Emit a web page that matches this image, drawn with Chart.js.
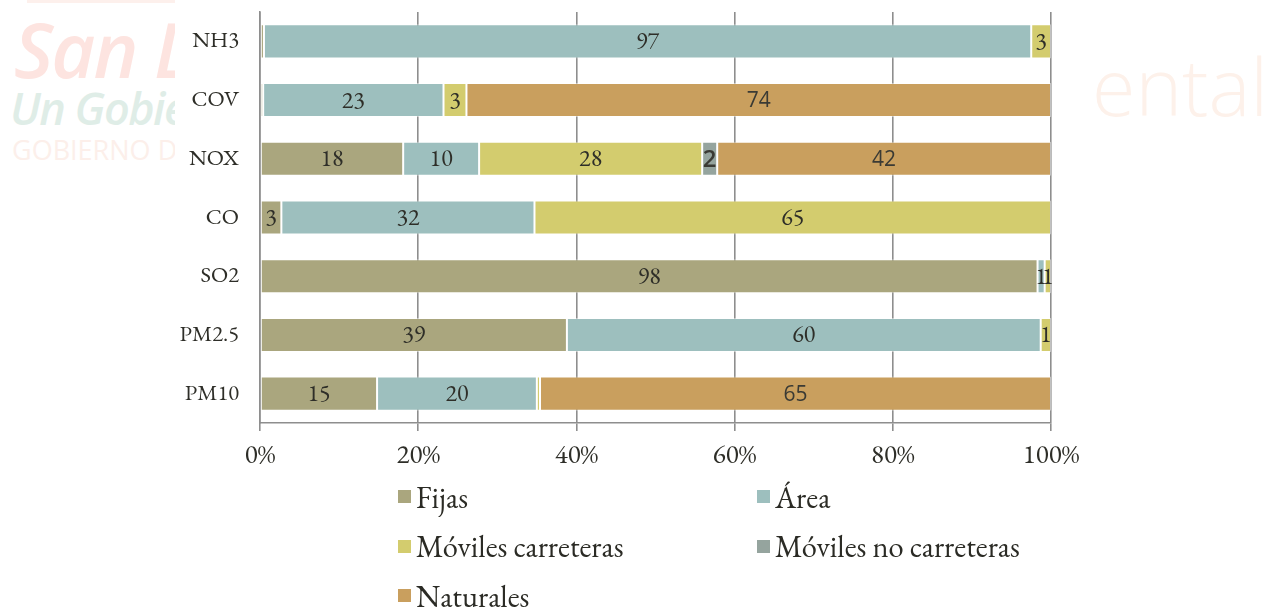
<!DOCTYPE html>
<html>
<head>
<meta charset="utf-8">
<script src="https://cdn.jsdelivr.net/npm/chart.js@4/dist/chart.umd.min.js"></script>
<style>
  html, body { margin: 0; padding: 0; background: #fff; }
  body { width: 1264px; height: 607px; position: relative; overflow: hidden; }
  .marca { position: absolute; overflow: hidden; white-space: nowrap; font-family: "Open Sans", "DejaVu Sans", sans-serif; }
  #chartBox { position: absolute; left: 0; top: 0; width: 1264px; height: 475px; }
  #legenda { position: absolute; left: 398px; top: 472px; display: grid; grid-template-columns: 359px 330px; grid-auto-rows: 49.5px; font-family: "EB Garamond", Garamond, "Liberation Serif", serif; font-size: 30.5px; color: #2b2b25; }
  #legenda div { display: flex; align-items: center; }
  #legenda span.box { display: inline-block; width: 13px; height: 13px; margin-right: 5px; }
</style>
</head>
<body>
<div class="marca" style="left:27px;top:0;width:148px;height:3px;background:#fdf0ec"></div>
<div class="marca" style="left:14px;top:8px;width:161px;height:82px;font-size:76px;font-weight:600;font-style:italic;color:#fde4e0;line-height:82px;letter-spacing:-2px">San Luis</div>
<div class="marca" style="left:10px;top:84px;width:165px;height:48px;font-size:45px;font-weight:600;font-style:italic;color:#dfede7;line-height:48px;letter-spacing:-1.5px">Un Gobierno</div>
<div class="marca" style="left:12px;top:134px;width:163px;height:32px;font-size:27px;color:#fcefea;line-height:32px">GOBIERNO DEL</div>
<div class="marca" style="left:1092px;top:44px;width:172px;height:84px;font-size:79px;font-weight:300;color:#fdf1ea;line-height:84px">ental</div>

<div id="chartBox"><canvas id="graficoFuentes"></canvas></div>
<div id="legenda"></div>

<script>
const contaminantes = ["NH3", "COV", "NOX", "CO", "SO2", "PM2.5", "PM10"];
const fijas = [0.5, 0.4, 18.1, 2.7, 98.3, 38.8, 14.8];
const area = [97.0, 22.8, 9.6, 32.0, 0.9, 59.9, 20.2];
const movilesCarreteras = [2.5, 2.9, 28.2, 65.3, 0.8, 1.3, 0.4];
const movilesNoCarreteras = [0, 0, 1.9, 0, 0, 0, 0];
const naturales = [0, 73.9, 42.2, 0, 0, 0, 64.6];
const ticksX = [0, 20, 40, 60, 80, 100];

const serif = '"EB Garamond", Garamond, "Liberation Serif", serif';
const sans = '"Open Sans", "DejaVu Sans", sans-serif';

const series = [
  { label: "Fijas", data: fijas, color: "#aaa67e", fonte: "24px " + serif },
  { label: "Área", data: area, color: "#9dbfbe", fonte: "24px " + serif },
  { label: "Móviles carreteras", data: movilesCarreteras, color: "#d3cc6e", fonte: "24px " + serif },
  { label: "Móviles no carreteras", data: movilesNoCarreteras, color: "#95a49e", fonte: "600 24px " + sans },
  { label: "Naturales", data: naturales, color: "#c99f5e", fonte: "21px " + sans }
];

// rótulos dentro das barras
const rotulos = {
  id: "rotulos",
  afterDatasetsDraw(chart) {
    const ctx = chart.ctx;
    ctx.save();
    ctx.textAlign = "center";
    ctx.textBaseline = "middle";
    chart.data.datasets.forEach((ds, i) => {
      const meta = chart.getDatasetMeta(i);
      ctx.font = series[i].fonte;
      ctx.fillStyle = i >= 3 ? "#3a3a34" : "#2e2e28";
      meta.data.forEach((bar, j) => {
        const v = ds.data[j];
        if (v < 0.75) return;
        ctx.fillText(String(Math.round(v)), (bar.x + bar.base) / 2, bar.y + 1);
      });
    });
    ctx.restore();
  }
};

const grafico = new Chart(document.getElementById("graficoFuentes"), {
  type: "bar",
  data: {
    labels: contaminantes,
    datasets: series.map(s => ({
      label: s.label,
      data: s.data,
      backgroundColor: s.color,
      borderColor: "rgba(255,255,255,0.45)",
      borderWidth: 1,
      borderSkipped: false,
      categoryPercentage: 1,
      barPercentage: 0.58
    }))
  },
  options: {
    indexAxis: "y",
    responsive: true,
    maintainAspectRatio: false,
    animation: false,
    layout: { padding: { top: 12, right: 213, left: 0, bottom: 0 } },
    plugins: { legend: { display: false }, tooltip: { enabled: false } },
    scales: {
      x: {
        stacked: true,
        min: 0,
        max: 100,
        afterBuildTicks: s => { s.ticks = ticksX.map(v => ({ value: v })); },
        afterFit: s => { s.height = 52; s.paddingLeft = 0; s.paddingRight = 0; },
        grid: { color: "#8e8e8e", lineWidth: 1.6, tickLength: 8, drawTicks: true },
        border: { display: true, color: "#8e8e8e", width: 1.6 },
        ticks: {
          padding: 8,
          color: "#2e2e28",
          font: { family: serif, size: 27 },
          callback: v => v + "%"
        }
      },
      y: {
        stacked: true,
        afterFit: s => { s.width = 260; s.paddingTop = 0; s.paddingBottom = 0; },
        grid: { display: false },
        border: { display: true, color: "#8e8e8e", width: 1.6 },
        ticks: {
          padding: 13,
          color: "#2e2e28",
          font: { family: serif, size: 22.5 }
        }
      }
    }
  },
  plugins: [rotulos]
});

// legenda em duas colunas
const legenda = document.getElementById("legenda");
grafico.data.datasets.forEach(ds => {
  const item = document.createElement("div");
  const box = document.createElement("span");
  box.className = "box";
  box.style.background = ds.backgroundColor;
  item.appendChild(box);
  item.appendChild(document.createTextNode(ds.label));
  legenda.appendChild(item);
});
</script>
</body>
</html>
